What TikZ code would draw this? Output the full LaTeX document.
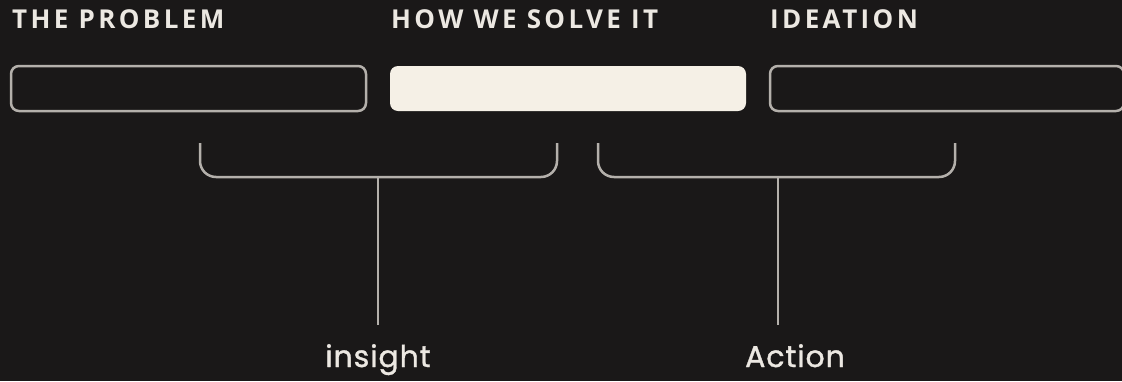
\documentclass[tikz,border=0pt]{standalone}
\usepackage{fontspec}
\setmainfont{Open Sans}
\newfontfamily\headfont[LetterSpace=13]{Open Sans}
\newfontfamily\labfont[LetterSpace=3,FakeBold=1.2]{Poppins}
\definecolor{bgc}{HTML}{1A1818}
\definecolor{linec}{HTML}{B4B0AB}
\definecolor{cream}{HTML}{F5F0E6}
\definecolor{headc}{HTML}{ECE8E2}
\tikzset{
  bar/.style={draw=linec, line width=2.5pt, rounded corners=8pt},
  barfill/.style={fill=cream, rounded corners=8pt},
  head/.style={anchor=base west, inner sep=0pt, text=headc, font=\headfont\bfseries\fontsize{26}{26}\selectfont},
  lab/.style={anchor=base, inner sep=0pt, text=headc, font=\labfont\fontsize{30}{30}\selectfont},
  brace/.style={draw=linec, line width=2.5pt, rounded corners=16pt},
  stem/.style={draw=linec, line width=2.5pt}
}
\begin{document}
\begin{tikzpicture}[x=1pt,y=-1pt]
\fill[bgc] (0,0) rectangle (1122,381);
\useasboundingbox (0,0) rectangle (1122,381);
\node[head] (h1) at (12,28) {THE PROBLEM};
\node[head] (h2) at (391,28) {HOW WE SOLVE IT};
\node[head] (h3) at (770,28) {IDEATION};
\draw[bar] (11,66) rectangle (366,111);
\fill[barfill] (390,66) rectangle (746,111);
\draw[bar] (770,66) rectangle (1124,111);
% brackets
\coordinate (l1) at (200,143);
\coordinate (r1) at (557,143);
\coordinate (m1) at (378,177);
\coordinate (l2) at (598,143);
\coordinate (r2) at (955,143);
\coordinate (m2) at (778,177);
\draw[brace] (l1) -- (200,177) -- (557,177) -- (r1);
\draw[brace] (l2) -- (598,177) -- (955,177) -- (r2);
\node[lab] (insight) at (378,367) {insight};
\node[lab] (action) at (795,367) {Action};
\coordinate (e1) at (378,325);
\coordinate (e2) at (778,325);
\draw[stem] (m1) -- (e1);
\draw[stem] (m2) -- (e2);
\end{tikzpicture}
\end{document}
